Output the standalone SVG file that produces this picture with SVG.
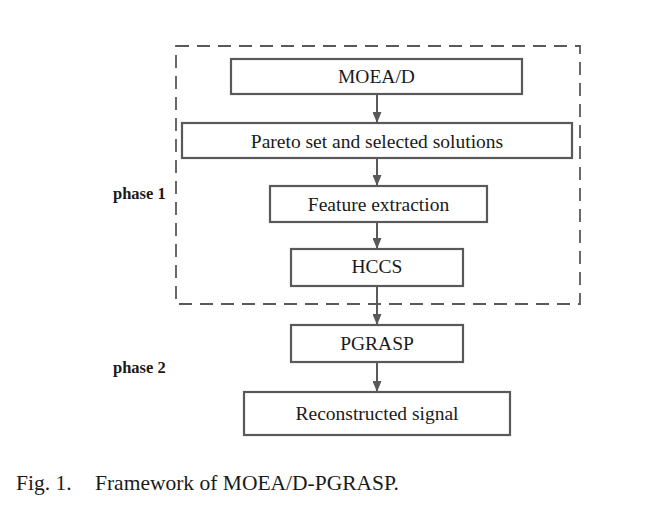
<svg xmlns="http://www.w3.org/2000/svg" width="647" height="520" viewBox="0 0 647 520">
<style>
.box{fill:#fff;stroke:#595959;stroke-width:2.2}
.lbl{font-family:"Liberation Serif","Times New Roman",serif;font-size:19.5px;fill:#1a1a1a;text-anchor:middle}
.ph{font-family:"Liberation Serif","Times New Roman",serif;font-size:16.5px;font-weight:bold;fill:#1a1a1a}
.cap{font-family:"Liberation Serif","Times New Roman",serif;font-size:21.5px;fill:#1a1a1a}
.con{stroke:#595959;stroke-width:2;fill:none;marker-end:url(#arr)}
</style>
<defs>
<marker id="arr" markerWidth="11" markerHeight="9" refX="10" refY="4.5" orient="auto" markerUnits="userSpaceOnUse" viewBox="0 0 11 9">
<path d="M0,0 L11,4.5 L0,9 Z" fill="#595959"/>
</marker>
</defs>
<rect x="0" y="0" width="647" height="520" fill="#fff"/>
<rect id="phase1-frame" x="176" y="46" width="404" height="258" fill="none" stroke="#595959" stroke-width="1.8" stroke-dasharray="13,8"/>
<g id="connectors">
<line class="con" x1="377" y1="95" x2="377" y2="122"/>
<line class="con" x1="377" y1="159" x2="377" y2="185"/>
<line class="con" x1="377" y1="223" x2="377" y2="248"/>
<line class="con" x1="377" y1="287" x2="377" y2="324"/>
<line class="con" x1="377" y1="363" x2="377" y2="391"/>
</g>
<g id="moead"><rect class="box" x="231" y="59" width="291" height="35"/><text class="lbl" x="376.5" y="83">MOEA/D</text></g>
<g id="pareto"><rect class="box" x="182" y="123" width="390" height="35"/><text class="lbl" x="377" y="148">Pareto set and selected solutions</text></g>
<g id="feature"><rect class="box" x="270" y="186" width="217" height="36"/><text class="lbl" x="378.5" y="211">Feature extraction</text></g>
<g id="hccs"><rect class="box" x="291" y="249" width="172" height="37"/><text class="lbl" x="377" y="273">HCCS</text></g>
<g id="pgrasp"><rect class="box" x="291" y="325" width="172" height="37"/><text class="lbl" x="377" y="350">PGRASP</text></g>
<g id="recon"><rect class="box" x="244" y="392" width="266" height="43"/><text class="lbl" x="377" y="420">Reconstructed signal</text></g>
<text class="ph" x="113" y="199">phase 1</text>
<text class="ph" x="113" y="373">phase 2</text>
<text class="cap" x="16" y="490">Fig. 1.</text>
<text class="cap" x="95" y="490">Framework of MOEA/D-PGRASP.</text>
</svg>
